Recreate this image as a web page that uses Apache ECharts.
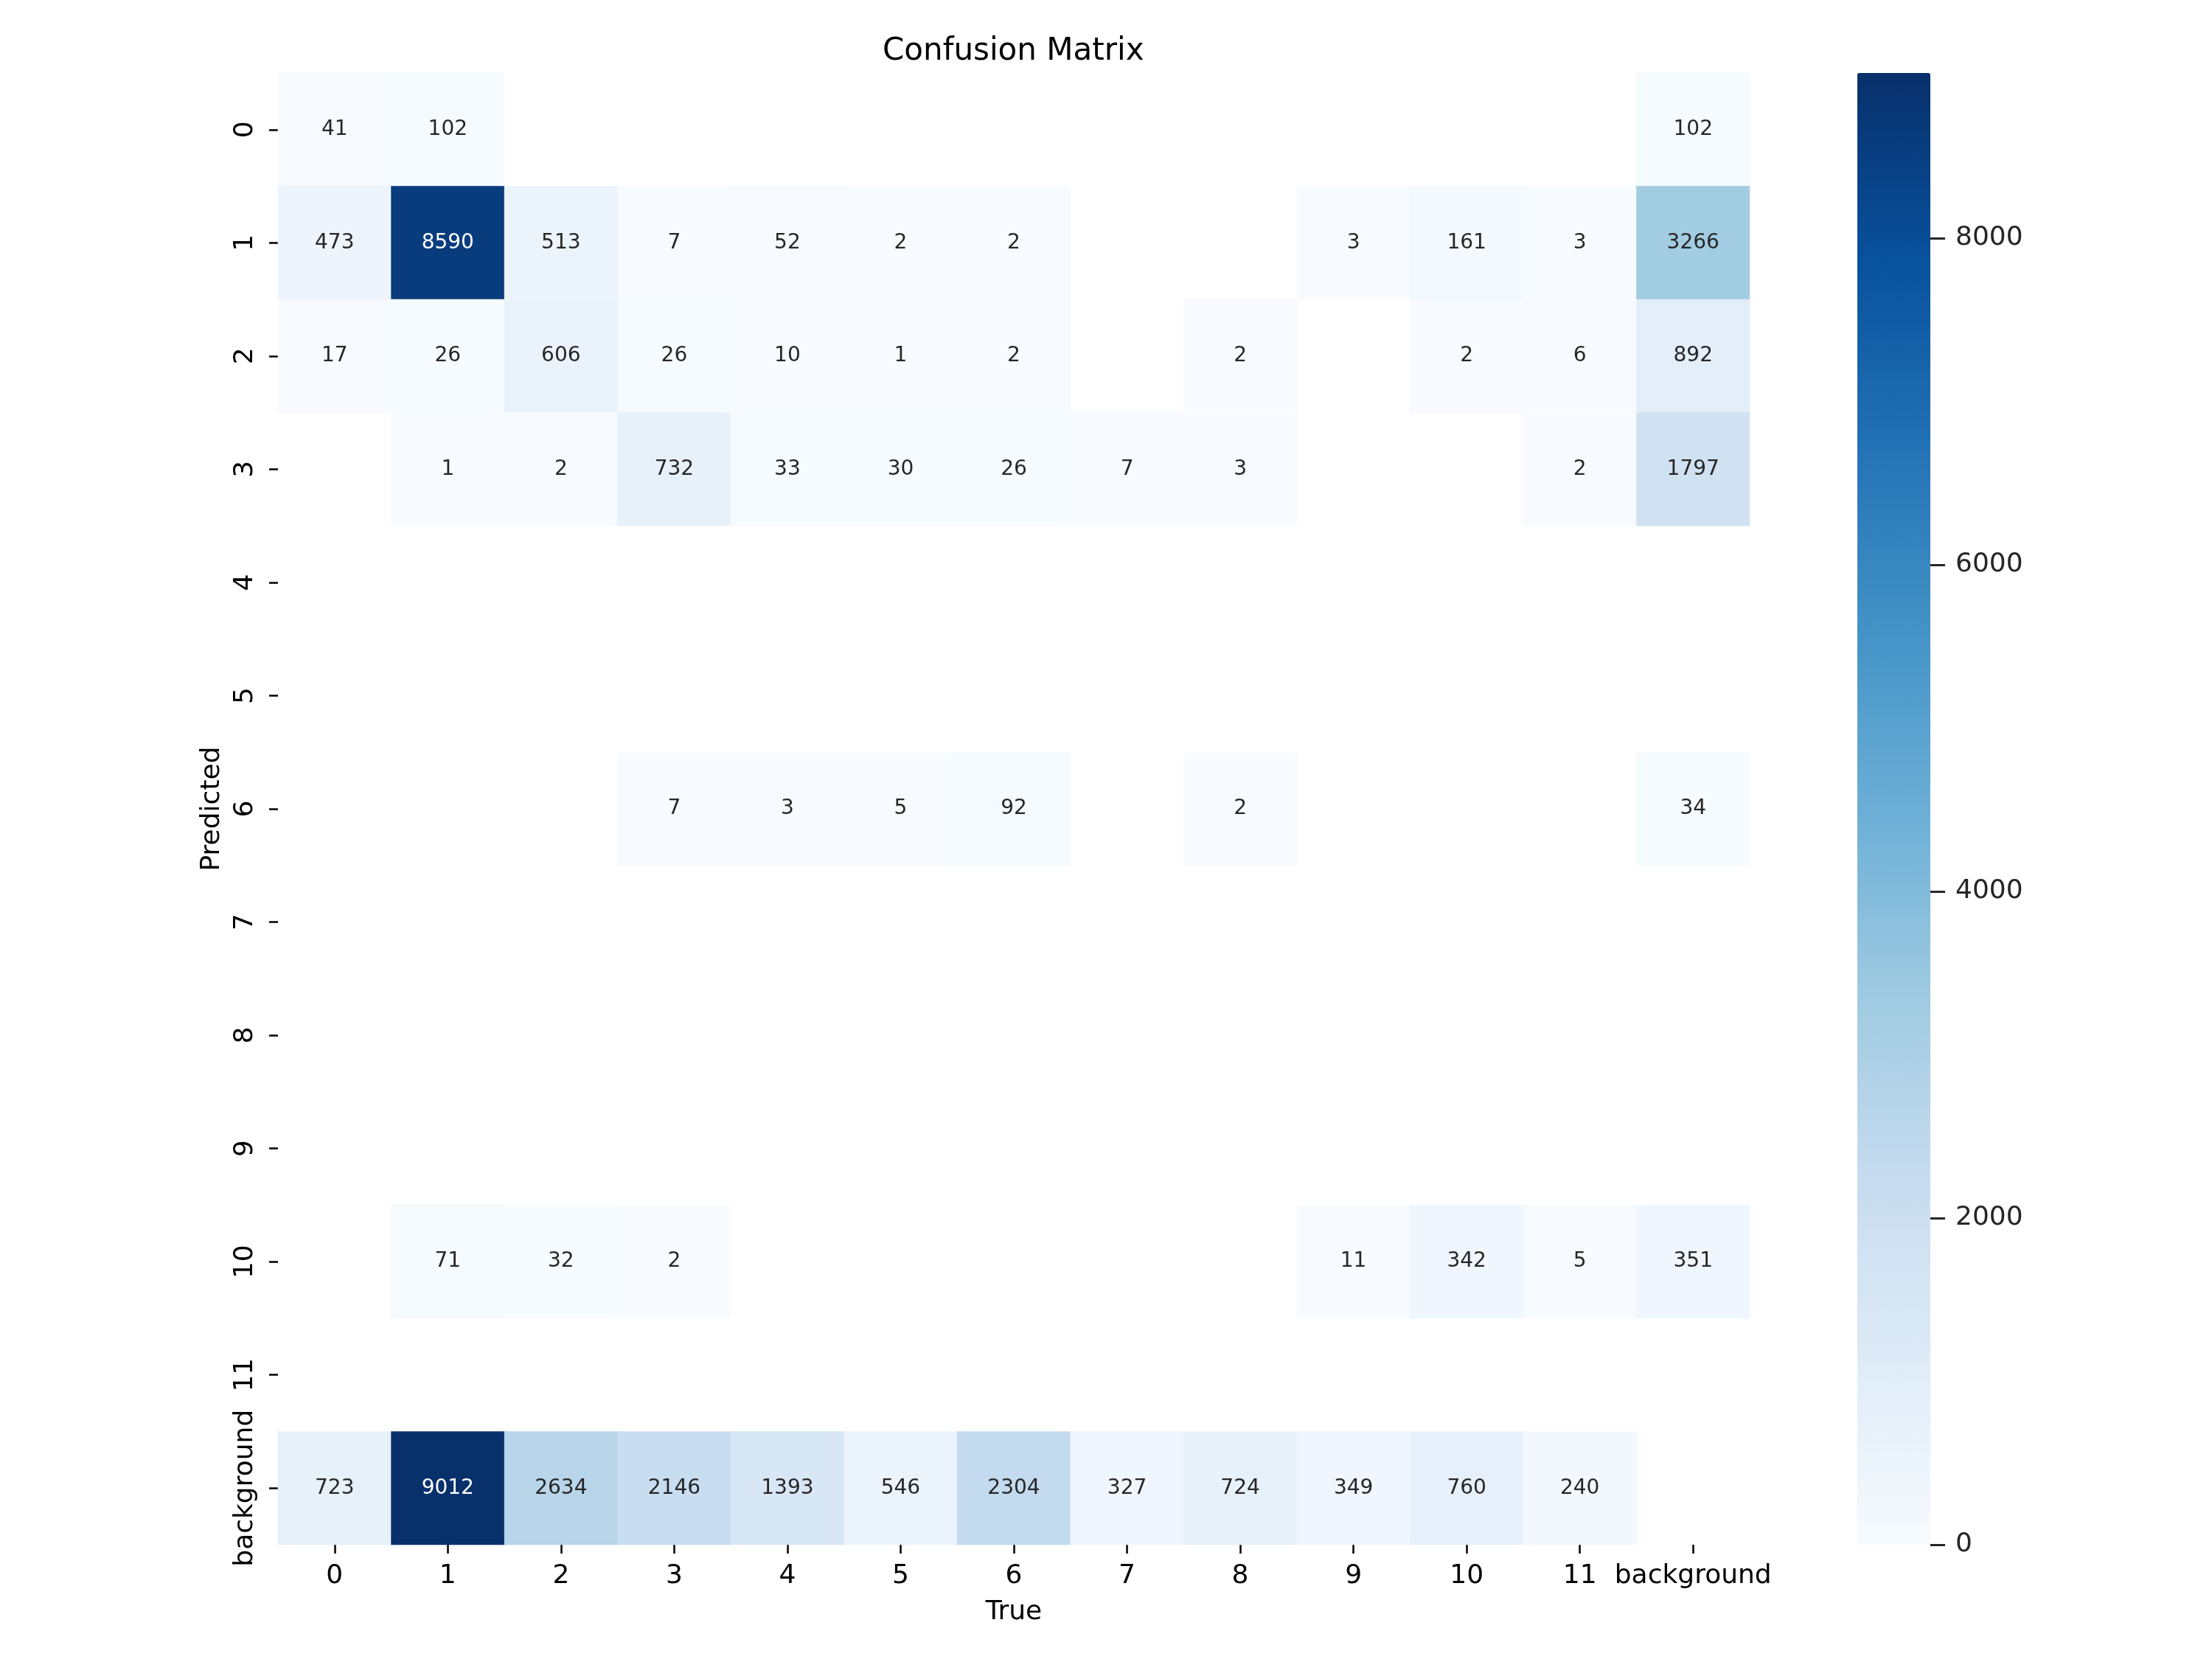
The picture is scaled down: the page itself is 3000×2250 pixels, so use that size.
<!DOCTYPE html>
<html>
<head>
<meta charset="utf-8">
<script src="https://cdn.jsdelivr.net/npm/echarts@6/dist/echarts.min.js"></script>
<style>
html,body{margin:0;padding:0;background:#fff;}
#chart{width:3000px;height:2250px;}
</style>
</head>
<body>
<div id="chart"></div>
<script>
// Category labels (True on x, Predicted on y)
const trueLabels = ['0','1','2','3','4','5','6','7','8','9','10','11','background'];
const predLabels = ['0','1','2','3','4','5','6','7','8','9','10','11','background'];

// Matrix rows (Predicted), columns (True); null = empty cell
const row0  = [41, 102, null, null, null, null, null, null, null, null, null, null, 102];
const row1  = [473, 8590, 513, 7, 52, 2, 2, null, null, 3, 161, 3, 3266];
const row2  = [17, 26, 606, 26, 10, 1, 2, null, 2, null, 2, 6, 892];
const row3  = [null, 1, 2, 732, 33, 30, 26, 7, 3, null, null, 2, 1797];
const row4  = [null, null, null, null, null, null, null, null, null, null, null, null, null];
const row5  = [null, null, null, null, null, null, null, null, null, null, null, null, null];
const row6  = [null, null, null, 7, 3, 5, 92, null, 2, null, null, null, 34];
const row7  = [null, null, null, null, null, null, null, null, null, null, null, null, null];
const row8  = [null, null, null, null, null, null, null, null, null, null, null, null, null];
const row9  = [null, null, null, null, null, null, null, null, null, null, null, null, null];
const row10 = [null, 71, 32, 2, null, null, null, null, null, 11, 342, 5, 351];
const row11 = [null, null, null, null, null, null, null, null, null, null, null, null, null];
const rowBg = [723, 9012, 2634, 2146, 1393, 546, 2304, 327, 724, 349, 760, 240, null];

const colorMin = 0;
const colorMax = 9012;
const cbarTicks = [0, 2000, 4000, 6000, 8000];

const blues = ['#f7fbff','#deebf7','#c6dbef','#9ecae1','#6baed6','#4292c6','#2171b5','#08519c','#08306b'];

const rows = [row0,row1,row2,row3,row4,row5,row6,row7,row8,row9,row10,row11,rowBg];
const data = [];
rows.forEach((r, yi) => {
  r.forEach((v, xi) => {
    if (v === null || v === undefined) return;
    const dark = (v - colorMin) / (colorMax - colorMin) > 0.45;
    data.push({ value: [xi, yi, v], label: { color: dark ? '#ffffff' : '#262626' } });
  });
});

const FONT = 'DejaVu Sans';
const chart = echarts.init(document.getElementById('chart'), null, { renderer: 'canvas' });
chart.setOption({
  backgroundColor: '#ffffff',
  animation: false,
  textStyle: { fontFamily: FONT },
  title: {
    text: 'Confusion Matrix',
    left: 1192, top: 44,
    textStyle: { fontFamily: FONT, fontSize: 42, fontWeight: 'normal', color: '#000' }
  },
  grid: [
    { left: 377, top: 99, width: 1996, height: 1996, containLabel: false },
    { left: 2519, top: 99, width: 99, height: 1996, containLabel: false }
  ],
  xAxis: [
    {
      type: 'category', gridIndex: 0, data: trueLabels, position: 'bottom',
      name: 'True', nameLocation: 'middle', nameGap: 74,
      nameTextStyle: { fontFamily: FONT, fontSize: 36, color: '#000' },
      axisLine: { show: false },
      axisTick: { show: true, alignWithLabel: true, length: 12, lineStyle: { color: '#000', width: 2.5 } },
      axisLabel: { fontFamily: FONT, fontSize: 36, color: '#000', margin: 25, interval: 0 },
      splitLine: { show: false }, splitArea: { show: false }
    },
    { type: 'category', gridIndex: 1, show: false, data: [''],
      axisLine: { show: false, onZero: false }, axisTick: { show: false }, axisLabel: { show: false }, splitLine: { show: false } }
  ],
  yAxis: [
    {
      type: 'category', gridIndex: 0, data: predLabels, inverse: true,
      name: 'Predicted', nameLocation: 'middle', nameGap: 71, nameRotate: 90,
      nameTextStyle: { fontFamily: FONT, fontSize: 36, color: '#000' },
      axisLine: { show: false },
      axisTick: { show: true, alignWithLabel: true, length: 12, lineStyle: { color: '#000', width: 2.5 } },
      axisLabel: { fontFamily: FONT, fontSize: 36, color: '#000', margin: 26, rotate: 90, interval: 0 },
      splitLine: { show: false }, splitArea: { show: false }
    },
    {
      type: 'value', gridIndex: 1, position: 'right', min: colorMin, max: colorMax,
      axisLine: { show: false, onZero: false },
      axisTick: { show: true, inside: false, length: 20, customValues: cbarTicks, lineStyle: { color: '#262626', width: 3 } },
      axisLabel: { fontFamily: FONT, fontSize: 36, color: '#262626', margin: 34, customValues: cbarTicks,
        formatter: v => String(v) },
      splitLine: { show: false }
    }
  ],
  visualMap: {
    type: 'continuous', seriesIndex: 0, min: colorMin, max: colorMax,
    orient: 'vertical', left: 2519, top: 99, itemWidth: 99, itemHeight: 1996,
    padding: 0, calculable: false, hoverLink: false, text: null, showLabel: false,
    inRange: { color: blues }
  },
  series: [
    {
      type: 'heatmap', xAxisIndex: 0, yAxisIndex: 0, data: data,
      label: {
        show: true, fontFamily: FONT, fontSize: 28,
        formatter: p => String(p.value[2])
      },
      itemStyle: { borderWidth: 0 },
      emphasis: { disabled: true }
    },
    { type: 'scatter', xAxisIndex: 1, yAxisIndex: 1, data: [], silent: true }
  ]
});
</script>
</body>
</html>
